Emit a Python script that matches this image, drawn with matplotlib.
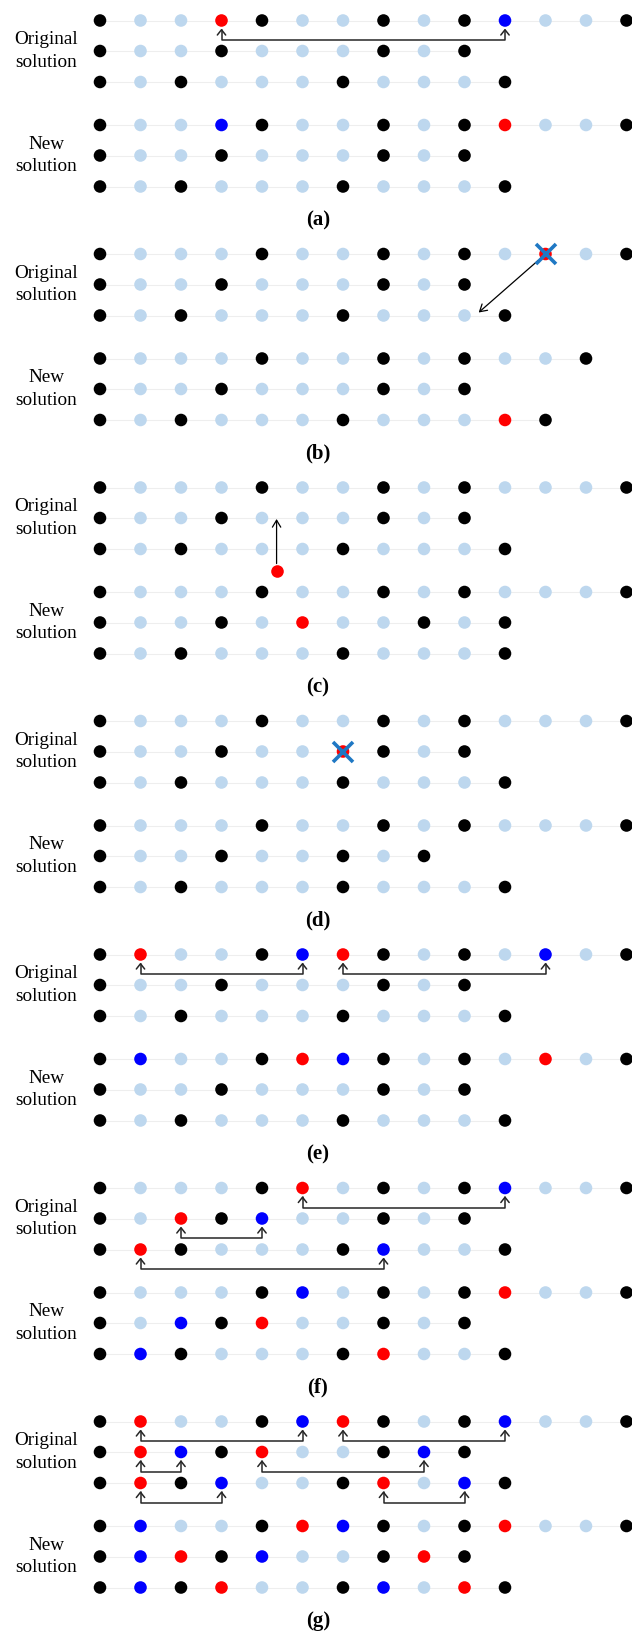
import matplotlib
matplotlib.use('Agg')
import matplotlib.pyplot as plt
from matplotlib.patches import FancyArrowPatch
from matplotlib.path import Path

# k = black (job), l = light blue (idle), r = red, b = blue
panel_labels = ['(a)', '(b)', '(c)', '(d)', '(e)', '(f)', '(g)']

original_rows = [
    ['kllrkllklkbllk', 'kllklllklk', 'klklllklllk'],
    ['klllkllklklrlk', 'kllklllklk', 'klklllklllk'],
    ['klllkllklklllk', 'kllklllklk', 'klklllklllk'],
    ['klllkllklklllk', 'kllkllrklk', 'klklllklllk'],
    ['krllkbrklklblk', 'kllklllklk', 'klklllklllk'],
    ['klllkrlklkbllk', 'klrkbllklk', 'krklllkbllk'],
    ['krllkbrklkbllk', 'krbkrllkbk', 'krkbllkrlbk'],
]
new_rows = [
    ['kllbkllklkrllk', 'kllklllklk', 'klklllklllk'],
    ['klllkllklkllk', 'kllklllklk', 'klklllklllrk'],
    ['klllkllklklllk', 'kllklrllklk', 'klklllklllk'],
    ['klllkllklklllk', 'kllkllklk', 'klklllklllk'],
    ['kbllkrbklklrlk', 'kllklllklk', 'klklllklllk'],
    ['klllkblklkrllk', 'klbkrllklk', 'kbklllkrllk'],
    ['kbllkrbklkrllk', 'kbrkbllkrk', 'kbkrllkblrk'],
]
# swaps: (row, column A, column B) in the original solution
swaps = [
    [(0, 3, 10)],
    [],
    [],
    [],
    [(0, 1, 5), (0, 6, 11)],
    [(0, 5, 10), (1, 2, 4), (2, 1, 7)],
    [(0, 1, 5), (0, 6, 10), (1, 1, 2), (1, 4, 8), (2, 1, 3), (2, 7, 9)],
]
# removed dots: (row, column)
removed = [[], [(0, 11)], [], [(1, 6)], [], [], []]
# moved dot: (row from, column from, row to, column to)
moves = [[], [(0, 11, 2, 9.35)], [], [], [], [], []]
# inserted dot: (column, target row)
inserts = [[], [], [(4.36, 1)], [], [], [], []]

colors = {'k': 'black', 'l': '#bdd7ee', 'r': 'red', 'b': 'blue'}

col_px = 40.5
x0_px = 100
panel_h = 233.5
top_px = 20.5
row_off = [0, 30.5, 61.5, 104.5, 135, 166]


def main():
    plt.rcParams['font.family'] = ['Liberation Serif', 'DejaVu Serif']
    fig = plt.figure(figsize=(6.32, 16.39), dpi=100)
    ax = fig.add_axes([0, 0, 1, 1])
    ax.set_xlim(-x0_px / col_px, (632 - x0_px) / col_px)
    ax.set_ylim(1639, 0)
    ax.axis('off')

    for p, label in enumerate(panel_labels):
        base = top_px + panel_h * p
        rows = original_rows[p] + new_rows[p]
        for r, row in enumerate(rows):
            y = base + row_off[r]
            n = len(row)
            ax.plot([0, n - 1], [y, y], color='#eeeeee', lw=0.8, zorder=1)
            ax.scatter(range(n), [y] * n, c=[colors[c] for c in row],
                       s=82, linewidths=0, zorder=3)

        ax.text(-1.33, base + row_off[1], 'Original\nsolution', ha='center',
                va='center', fontsize=13.8, linespacing=1.4)
        ax.text(-1.33, base + row_off[4], 'New\nsolution', ha='center',
                va='center', fontsize=13.8, linespacing=1.4)
        ax.text(5.38, base + 199.5, label, ha='center', va='center',
                fontsize=15, fontweight='bold')

        for r, ca, cb in swaps[p]:
            y = base + row_off[r]
            path = Path([(ca, y + 8), (ca, y + 19.5), (cb, y + 19.5), (cb, y + 8)])
            arr = FancyArrowPatch(path=path,
                                  arrowstyle='<->,head_length=0.38,head_width=0.3',
                                  mutation_scale=10, lw=1.1, color='#262626',
                                  zorder=4)
            ax.add_patch(arr)

        for r, c in removed[p]:
            ax.plot(c, base + row_off[r], marker='x', ms=14, mew=2.6,
                    color='#1f78c4', zorder=5)

        for r1, c1, r2, c2 in moves[p]:
            ax.annotate('', xy=(c2, base + row_off[r2] - 3),
                        xytext=(c1, base + row_off[r1]),
                        arrowprops=dict(arrowstyle='->,head_length=0.5,head_width=0.3',
                                        mutation_scale=10, lw=0.9, color='black',
                                        shrinkA=7, shrinkB=0), zorder=4)

        for c, rt in inserts[p]:
            y = base + (row_off[2] + row_off[3]) / 2
            ax.scatter([c], [y], c='red', s=82, linewidths=0, zorder=3)
            ax.annotate('', xy=(c, base + row_off[rt] + 1), xytext=(c, y),
                        arrowprops=dict(arrowstyle='->,head_length=0.5,head_width=0.3',
                                        mutation_scale=10, lw=0.9, color='black',
                                        shrinkA=5, shrinkB=0), zorder=4)

    fig.savefig('out.png', dpi=100)
    plt.close(fig)


if __name__ == '__main__':
    main()
